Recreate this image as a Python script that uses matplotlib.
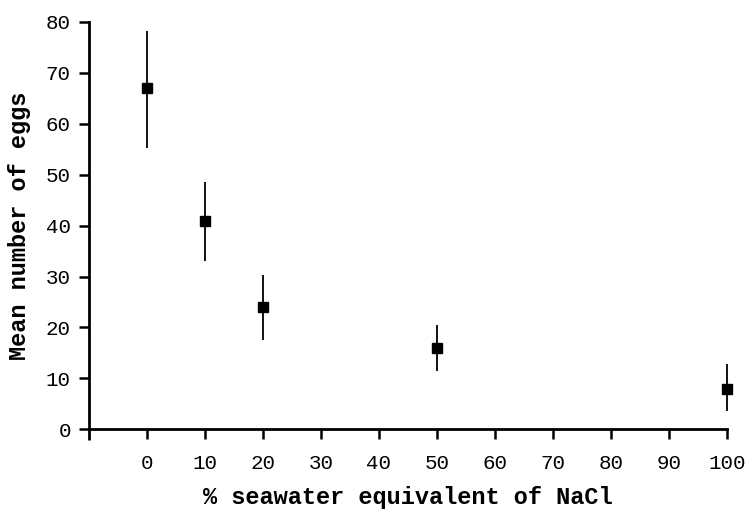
import matplotlib
matplotlib.use("Agg")
import matplotlib.pyplot as plt

salinity = [0, 10, 20, 50, 100]
mean_eggs = [67, 41, 24, 16, 8]
err_up = [11.3, 7.5, 6.3, 4.5, 4.8]
err_down = [11.7, 8.0, 6.5, 4.5, 4.5]
x_ticks = [0, 10, 20, 30, 40, 50, 60, 70, 80, 90, 100]
y_ticks = [0, 10, 20, 30, 40, 50, 60, 70, 80]

fig = plt.figure(figsize=(7.47, 5.11), dpi=100)
ax = fig.add_axes([0.119, 0.160, 0.854, 0.797])

ax.errorbar(salinity, mean_eggs, yerr=[err_down, err_up], fmt='s', color='black',
            markersize=7.5, elinewidth=1.3, capsize=0, clip_on=False, zorder=3)

ax.set_xlim(-10, 100)
ax.set_ylim(0, 80)
ax.set_xticks(x_ticks)
ax.set_yticks(y_ticks)
ax.set_xticks([-10], minor=True)
ax.tick_params(which='minor', length=8, width=2, direction='out')

for s in ['top', 'right']:
    ax.spines[s].set_visible(False)
for s in ['left', 'bottom']:
    ax.spines[s].set_linewidth(2)

tickfont = {'family': 'Liberation Mono', 'size': 15}
ax.set_xticklabels([str(v) for v in x_ticks], **tickfont)
ax.set_yticklabels([str(v) for v in y_ticks], **tickfont)
ax.tick_params(axis='both', which='major', length=7, width=1.8, direction='out')
ax.tick_params(axis='x', pad=11)
ax.tick_params(axis='y', pad=6)

labfont = {'family': 'Liberation Mono', 'size': 17, 'weight': 'bold'}
ax.set_xlabel('% seawater equivalent of NaCl', labelpad=9, **labfont)
ax.set_ylabel('Mean number of eggs', **labfont)
ax.yaxis.set_label_coords(-0.091, 0.5)

fig.savefig('out.png', dpi=100, facecolor='white')
